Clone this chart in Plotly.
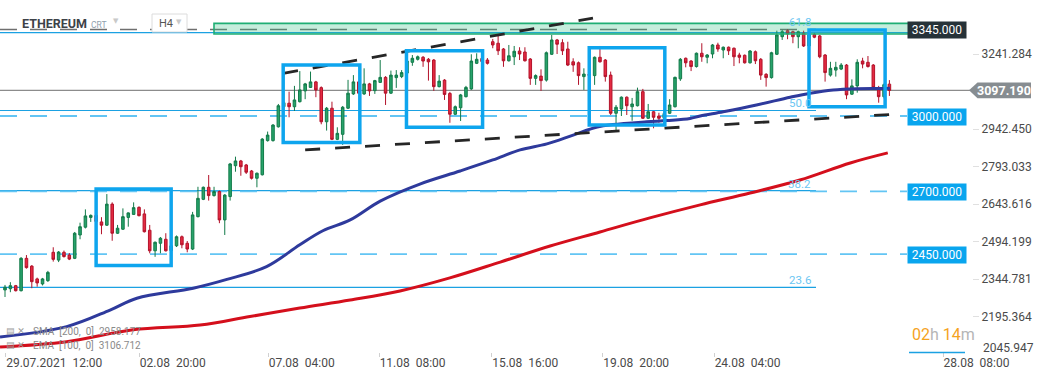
import plotly.graph_objects as go

# ---------------- data (H4 candles, ETHEREUM) ----------------
opens = [2302, 2307, 2319, 2299, 2428, 2397, 2346, 2326, 2339, 2452, 2421, 2452, 2441, 2428, 2521, 2552, 2591, 2599, 2573, 2560,
         2644, 2528, 2544, 2591, 2603, 2631, 2605, 2540, 2458, 2488, 2504, 2459, 2478, 2514, 2488, 2465, 2594, 2663, 2711, 2678,
         2694, 2581, 2674, 2797, 2816, 2800, 2776, 2747, 2761, 2897, 2897, 2952, 3032, 3046, 3032, 3052, 3095, 3109, 3131, 3108,
         2972, 3026, 2902, 2922, 3026, 3083, 3131, 3083, 3123, 3096, 3129, 3149, 3086, 3148, 3152, 3166, 3209, 3221, 3229, 3221,
         3218, 3112, 3138, 3085, 3002, 3028, 3072, 3103, 3205, 3224, 3218, 3291, 3285, 3262, 3215, 3231, 3254, 3250, 3222, 3145,
         3154, 3138, 3241, 3298, 3287, 3262, 3211, 3207, 3152, 3162, 3156, 3229, 3218, 3158, 3006, 3023, 3070, 3032, 3036, 3092,
         2986, 3012, 2995, 2986, 3006, 3032, 3143, 3225, 3214, 3192, 3245, 3229, 3242, 3278, 3258, 3269, 3265, 3238, 3237, 3207,
         3251, 3221, 3161, 3148, 3241, 3311, 3335, 3331, 3311, 3325, 3274, 3320, 3314, 3238, 3158, 3178, 3182, 3198, 3082, 3115,
         3214, 3209, 3198, 3099, 3072, 3122]
highs = [2322, 2333, 2322, 2433, 2441, 2401, 2351, 2350, 2378, 2472, 2457, 2459, 2449, 2533, 2570, 2623, 2603, 2604, 2592, 2684,
         2651, 2561, 2627, 2611, 2651, 2635, 2623, 2561, 2495, 2513, 2528, 2486, 2519, 2519, 2497, 2613, 2713, 2714, 2760, 2713,
         2698, 2684, 2808, 2833, 2820, 2804, 2780, 2770, 2907, 2933, 2963, 3043, 3055, 3092, 3115, 3174, 3127, 3172, 3135, 3113,
         3031, 3052, 2950, 3035, 3139, 3158, 3135, 3185, 3127, 3139, 3218, 3154, 3176, 3178, 3178, 3226, 3238, 3236, 3234, 3226,
         3222, 3158, 3142, 3091, 3037, 3083, 3115, 3241, 3245, 3234, 3226, 3302, 3314, 3266, 3278, 3274, 3269, 3269, 3226, 3161,
         3181, 3252, 3318, 3302, 3301, 3291, 3225, 3212, 3185, 3175, 3232, 3274, 3222, 3172, 3039, 3073, 3073, 3067, 3108, 3103,
         3043, 3015, 3008, 3020, 3062, 3152, 3226, 3228, 3218, 3248, 3285, 3242, 3282, 3287, 3272, 3272, 3268, 3247, 3240, 3258,
         3256, 3226, 3166, 3251, 3335, 3338, 3341, 3335, 3335, 3335, 3330, 3326, 3318, 3242, 3211, 3211, 3206, 3202, 3141, 3221,
         3227, 3234, 3202, 3115, 3125, 3138]
lows = [2274, 2293, 2296, 2296, 2387, 2309, 2315, 2320, 2334, 2415, 2413, 2431, 2421, 2425, 2504, 2547, 2573, 2570, 2524, 2557,
        2498, 2525, 2541, 2554, 2601, 2595, 2531, 2448, 2434, 2448, 2455, 2451, 2473, 2468, 2452, 2461, 2591, 2660, 2658, 2674,
        2568, 2521, 2658, 2773, 2757, 2764, 2742, 2711, 2758, 2893, 2893, 2949, 3027, 2990, 3015, 3049, 3062, 3107, 3070, 2962,
        2937, 2899, 2899, 2880, 3023, 3079, 3083, 3079, 3075, 3083, 3127, 3039, 3083, 3107, 3146, 3158, 3195, 3216, 3191, 3136,
        3095, 3109, 3059, 2968, 2999, 2975, 3069, 3099, 3202, 3202, 3200, 3265, 3238, 3191, 3212, 3198, 3218, 3212, 3119, 3119,
        3095, 3132, 3238, 3242, 3238, 3194, 3171, 3119, 3099, 3140, 3119, 3208, 3132, 2999, 2937, 2995, 2999, 2976, 3033, 2983,
        2983, 2946, 2968, 2975, 3003, 3029, 3135, 3189, 3174, 3188, 3211, 3205, 3225, 3251, 3225, 3238, 3194, 3205, 3204, 3204,
        3202, 3139, 3112, 3144, 3238, 3298, 3301, 3285, 3265, 3270, 3268, 3305, 3225, 3132, 3152, 3152, 3178, 3062, 3079, 3088,
        3185, 3188, 3105, 3048, 3065, 3075]
closes = [2313, 2319, 2299, 2428, 2391, 2335, 2330, 2346, 2372, 2424, 2453, 2435, 2425, 2528, 2554, 2597, 2599, 2575, 2560, 2644,
          2528, 2548, 2594, 2609, 2630, 2598, 2534, 2458, 2492, 2508, 2458, 2478, 2514, 2482, 2465, 2601, 2667, 2711, 2678, 2694,
          2581, 2680, 2804, 2816, 2793, 2771, 2747, 2767, 2903, 2919, 2959, 3036, 3048, 3032, 3059, 3099, 3123, 3131, 3099, 2972,
          3026, 2902, 2926, 3030, 3086, 3131, 3086, 3123, 3095, 3136, 3149, 3086, 3158, 3158, 3168, 3214, 3225, 3231, 3214, 3211,
          3112, 3134, 3081, 3002, 3032, 3079, 3109, 3214, 3221, 3212, 3205, 3278, 3255, 3215, 3235, 3253, 3242, 3215, 3145, 3156,
          3136, 3247, 3298, 3281, 3255, 3198, 3198, 3156, 3162, 3156, 3229, 3211, 3152, 3006, 3030, 3070, 3036, 3043, 3092, 2986,
          3012, 2990, 2986, 3005, 3039, 3149, 3221, 3207, 3192, 3245, 3231, 3238, 3278, 3262, 3269, 3255, 3231, 3229, 3207, 3254,
          3215, 3158, 3148, 3247, 3318, 3331, 3322, 3311, 3331, 3274, 3318, 3309, 3231, 3168, 3185, 3189, 3198, 3079, 3115, 3209,
          3202, 3192, 3108, 3072, 3120, 3097]

# EMA(100) read at sample candle positions
ema_idx = [-0.93, 11.5, 19.6, 24.6, 35.1, 41.4, 48.8, 55.0, 59.3, 64.4, 70.0, 77.4, 84.9, 91.0, 96.1, 101.1, 106.0, 110.5,
           113.4, 119.7, 123.5, 127.8, 129.7, 134.0, 140.2, 146.5, 150.2, 154.5, 158.9, 163.3, 165.1]
ema_val = [2115, 2156, 2222, 2269, 2309, 2344, 2395, 2482, 2538, 2581, 2656, 2724, 2776, 2820, 2860, 2884, 2919, 2951,
           2961, 2972, 2977, 2985, 2995, 3012, 3039, 3070, 3086, 3099, 3104, 3105, 3106]
# SMA(200)
sma_idx = [-0.93, 11.5, 23.9, 36.4, 45.7, 55.0, 64.4, 73.7, 83.0, 92.4, 101.7, 111.0, 120.3, 129.7, 139.0, 148.3, 157.7, 164.7]
sma_val = [2075, 2096, 2143, 2162, 2196, 2230, 2262, 2298, 2350, 2413, 2477, 2533, 2589, 2641, 2688, 2740, 2808, 2848]

x_tick_idx = [0.13, 25.06, 49.1, 69.8, 90.8, 111.5, 132.3, 175.0]
x_tick_text = ["29.07.2021\u00a0\u00a012:00", "02.08\u00a0\u00a020:00", "07.08\u00a0\u00a004:00", "11.08\u00a0\u00a008:00",
               "15.08\u00a0\u00a016:00", "19.08\u00a0\u00a020:00", "24.08\u00a0\u00a004:00", "28.08\u00a0\u00a008:00"]
y_tick_vals = [2195.364, 2344.781, 2494.199, 2643.616, 2793.033, 2942.450, 3241.284]

last_price = 3097.19
level_tags = [3000.0, 2700.0, 2450.0]
resistance_zone = (3322, 3364)
resistance_level = 3345.0
fib_levels = {"61.8": 3340, "50.0": 3017, "38.2": 2698, "23.6": 2312}
upper_trend = ((51.9, 3165), (109.7, 3385))
lower_trend = ((56.0, 2860), (165.1, 3001))
boxes = [(17.0, 31.0, 2399, 2704), (51.9, 66.2, 2889, 3198), (74.9, 89.1, 2950, 3255),
         (109.0, 123.1, 2959, 3267), (150.0, 164.2, 3032, 3338)]

# ---------------- layout helpers ----------------
W, H = 1041, 379
PL, PR, PT, PB = 0, 972, 0, 352          # plot area in pixels
XMIN, XMAX = -0.933, 180.41
YMIN, YMAX = 2054.8, 3457.2


def px(x):
    return (x - PL) / (PR - PL)


def py(y):
    return 1 - (y - PT) / (PB - PT)


FONT = "Roboto"
BLUE = "#1ba1e2"
LBLUE = "#63c5f4"
BOXBLUE = "#0ea5ee"

fig = go.Figure()

fig.add_trace(go.Scatter(x=sma_idx, y=sma_val, mode="lines", line=dict(color="#d40f1c", width=3, shape="spline"),
                         hoverinfo="skip"))
fig.add_trace(go.Scatter(x=ema_idx, y=ema_val, mode="lines", line=dict(color="#2e3a9c", width=3, shape="spline"),
                         hoverinfo="skip"))
fig.add_trace(go.Candlestick(
    x=list(range(len(opens))), open=opens, high=highs, low=lows, close=closes,
    increasing=dict(line=dict(color="#127a49", width=1), fillcolor="#27a36b"),
    decreasing=dict(line=dict(color="#b3122a", width=1), fillcolor="#e42a41"),
    whiskerwidth=0))

shapes = []
# current price line
shapes.append(dict(type="line", xref="paper", yref="y", x0=0, x1=px(970), y0=last_price, y1=last_price,
                   line=dict(color="#8c8c8c", width=1.2), layer="below"))
# fib solid lines
for name, val in fib_levels.items():
    if name == "61.8":
        shapes.append(dict(type="line", xref="paper", yref="y", x0=0, x1=px(816), y0=val, y1=val,
                           line=dict(color="#6f6f6f", width=1.5, dash="17px,13px"), layer="below"))
    else:
        shapes.append(dict(type="line", xref="paper", yref="y", x0=0, x1=px(816), y0=val, y1=val,
                           line=dict(color=BLUE, width=1.2), layer="below"))
# top blue line
shapes.append(dict(type="line", xref="paper", yref="y", x0=0, x1=px(916), y0=3327.5, y1=3327.5,
                   line=dict(color=BLUE, width=1.2), layer="below"))
# horizontal dashed levels
for lv in level_tags:
    shapes.append(dict(type="line", xref="paper", yref="y", x0=0, x1=px(907), y0=lv - 5, y1=lv - 5,
                       line=dict(color=LBLUE, width=1.8, dash="17px,13px"), layer="below"))
# resistance zone
shapes.append(dict(type="rect", xref="paper", yref="y", x0=px(214), x1=px(916),
                   y0=resistance_zone[0], y1=resistance_zone[1],
                   fillcolor="rgba(45,190,130,0.28)", line=dict(color="#1fae74", width=1.6), layer="above"))
# trend lines
for (a, b) in (upper_trend, lower_trend):
    shapes.append(dict(type="line", xref="x", yref="y", x0=a[0], y0=a[1], x1=b[0], y1=b[1],
                       line=dict(color="#262626", width=2.8, dash="15px,15px"), layer="above"))
# boxes
for (x0, x1, y0, y1) in boxes:
    shapes.append(dict(type="rect", xref="x", yref="y", x0=x0, x1=x1, y0=y0, y1=y1,
                       line=dict(color=BOXBLUE, width=3.5), fillcolor="rgba(0,0,0,0)", layer="above"))
# H4 box
shapes.append(dict(type="rect", xref="paper", yref="paper", x0=px(152), x1=px(187), y0=py(32), y1=py(14),
                   line=dict(color="#dcdcdc", width=1), fillcolor="white"))
# current price tag (arrow)
ph = 7.9 * (YMAX - YMIN) / (PB - PT)
shapes.append(dict(type="path", xref="paper", yref="y",
                   path=f"M {px(969)},{last_price} L {px(977.5)},{last_price + ph} L {px(1031)},{last_price + ph} "
                        f"L {px(1031)},{last_price - ph} L {px(977.5)},{last_price - ph} Z",
                   fillcolor="#878d91", line=dict(width=0)))
# countdown underline
shapes.append(dict(type="line", xref="paper", yref="paper", x0=px(909), x1=px(965), y0=py(352.5), y1=py(352.5),
                   line=dict(color=BLUE, width=1.5)))

ann = []
ann.append(dict(text="<b>ETHEREUM</b>", xref="paper", yref="paper", x=px(20), y=py(24), xanchor="left",
                yanchor="middle", showarrow=False, font=dict(family=FONT, size=12.5, color="#3d4248")))
ann.append(dict(text="CRT", xref="paper", yref="paper", x=px(89), y=py(25), xanchor="left", yanchor="middle",
                showarrow=False, font=dict(family=FONT, size=8.5, color="#8fa0ad")))
ann.append(dict(text="▼", xref="paper", yref="paper", x=px(116), y=py(21), xanchor="center", yanchor="middle",
                showarrow=False, font=dict(family="DejaVu Sans", size=7, color="#c9c9c9")))
ann.append(dict(text="H4", xref="paper", yref="paper", x=px(157), y=py(23.5), xanchor="left", yanchor="middle",
                showarrow=False, font=dict(family=FONT, size=11, color="#555")))
ann.append(dict(text="▼", xref="paper", yref="paper", x=px(179), y=py(22), xanchor="center", yanchor="middle",
                showarrow=False, font=dict(family="DejaVu Sans", size=7, color="#c9c9c9")))
# level tags
ann.append(dict(text=f"{resistance_level:.3f}", xref="paper", yref="y", x=px(937), y=resistance_level, yshift=-1.5,
                xanchor="center", yanchor="middle", showarrow=False, bgcolor="#263238", width=56, height=14,
                font=dict(family=FONT, size=12, color="white")))
for lv in level_tags:
    ann.append(dict(text=f"{lv:.3f}", xref="paper", yref="y", x=px(937), y=lv, yshift=-2,
                    xanchor="center", yanchor="middle", showarrow=False, bgcolor="#09a5ee", width=56, height=14,
                    font=dict(family=FONT, size=12, color="white")))
# current price text
ann.append(dict(text=f"<b>{last_price:.3f}</b>", xref="paper", yref="y", x=px(1004), y=last_price,
                xanchor="center", yanchor="middle", showarrow=False,
                font=dict(family=FONT, size=12.5, color="white")))
# 2045.947 bottom label
ann.append(dict(text="2045.947", xref="paper", yref="paper", x=px(981), y=py(348), xanchor="left",
                yanchor="middle", showarrow=False, font=dict(family=FONT, size=12, color="#4a4a4a")))
# fib labels
for name, val in fib_levels.items():
    ann.append(dict(text=name, xref="paper", yref="y", x=px(813), y=val, yshift=7, xanchor="right",
                    yanchor="middle", showarrow=False, font=dict(family=FONT, size=11.5, color="#6cc6f2")))
# countdown
ann.append(dict(text="<span style='color:#f5a31f'>02</span><span style='color:#b5b5b5'>h</span> "
                     "<span style='color:#f5a31f'>14</span><span style='color:#b5b5b5'>m</span>",
                xref="paper", yref="paper", x=px(943), y=py(334), xanchor="center", yanchor="middle",
                showarrow=False, font=dict(family=FONT, size=16)))
# indicator legend
ann.append(dict(text="▤ ✕", xref="paper", yref="paper", x=px(4), y=py(331), xanchor="left", yanchor="middle",
                showarrow=False, font=dict(family="DejaVu Sans", size=9, color="#9a9a9a")))
ann.append(dict(text="SMA  [200,  0]  2958.177", xref="paper", yref="paper", x=px(31), y=py(331), xanchor="left",
                yanchor="middle", showarrow=False, font=dict(family=FONT, size=10, color="#8a8a8a")))
ann.append(dict(text="▤ ✕", xref="paper", yref="paper", x=px(4), y=py(345), xanchor="left", yanchor="middle",
                showarrow=False, font=dict(family="DejaVu Sans", size=9, color="#9a9a9a")))
ann.append(dict(text="EMA  [100,  0]  3106.712", xref="paper", yref="paper", x=px(31), y=py(345), xanchor="left",
                yanchor="middle", showarrow=False, font=dict(family=FONT, size=10, color="#8a8a8a")))

fig.update_layout(
    width=W, height=H, margin=dict(l=PL, r=W - PR, t=PT, b=H - PB),
    paper_bgcolor="white", plot_bgcolor="white", showlegend=False,
    boxgap=0.32,
    shapes=shapes, annotations=ann,
    xaxis=dict(range=[XMIN, XMAX], showgrid=False, zeroline=False, showline=False,
               rangeslider=dict(visible=False),
               tickmode="array", tickvals=x_tick_idx, ticktext=x_tick_text,
               ticks="outside", ticklen=4, tickcolor="#d0d0d0", ticklabelposition="outside right",
               tickfont=dict(family=FONT, size=12, color="#4a4a4a")),
    yaxis=dict(range=[YMIN, YMAX], side="right", showgrid=False, zeroline=False, showline=False,
               tickmode="array", tickvals=y_tick_vals, ticktext=[f"{v:.3f}" for v in y_tick_vals],
               ticks="outside", ticklen=6, tickcolor="#e0e0e0",
               tickfont=dict(family=FONT, size=12, color="#4a4a4a")),
)

fig.write_html("out.html", config={"displayModeBar": False},
               post_script="document.body.style.margin='0';document.body.style.overflow='hidden';")
